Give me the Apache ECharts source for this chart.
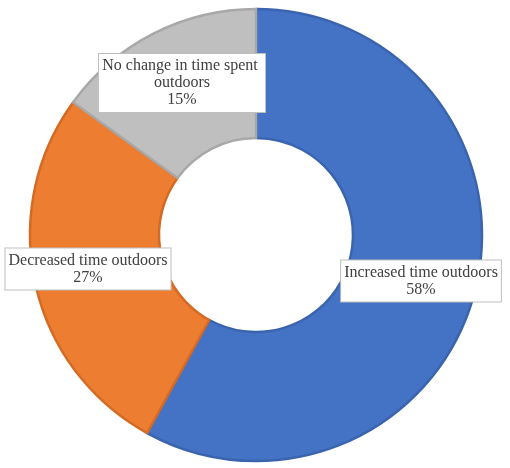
<!DOCTYPE html>
<html>
<head>
<meta charset="utf-8">
<script src="https://cdn.jsdelivr.net/npm/echarts@6/dist/echarts.min.js"></script>
<style>
html, body { margin: 0; padding: 0; background: #fff; }
#chart { width: 510px; height: 468px; }
</style>
</head>
<body>
<div id="chart"></div>
<script>
var names = ['Increased time outdoors', 'Decreased time outdoors', 'No change in time spent outdoors'];
var values = [58, 27, 15];

var fills = ['#4472C4', '#ED7D31', '#BFBFBF'];
var edges = ['#3B64AE', '#D36B24', '#A8A8A8'];
// where each box sits (centre, px)
var labelPos = [[421, 281], [88, 269], [182, 83]];

var chart = echarts.init(document.getElementById('chart'));

var pieData = [];
for (var i = 0; i < names.length; i++) {
	var item = {
		name: names[i],
		value: values[i],
		itemStyle: { color: fills[i], borderColor: edges[i], borderWidth: 2.5 }
	};
	if (i == 2) {
		item.label = { width: 160, overflow: 'break' };
	}
	pieData.push(item);
}

chart.setOption({
	animation: false,
	series: [{
		type: 'pie',
		center: [256, 235],
		radius: [97, 226],
		startAngle: 90,
		clockwise: true,
		label: {
			show: true,
			position: 'inside',
			formatter: '{b}\n{d}%',
			fontFamily: 'Liberation Serif',
			fontSize: 16,
			lineHeight: 17,
			color: '#404040',
			backgroundColor: '#fff',
			borderColor: '#BFBFBF',
			borderWidth: 1,
			padding: [4, 3, 3, 3],
			align: 'center'
		},
		labelLine: { show: false },
		labelLayout: function (params) {
			var p = labelPos[params.dataIndex];
			return { x: p[0], y: p[1], align: 'center', verticalAlign: 'middle' };
		},
		data: pieData
	}]
});
</script>
</body>
</html>
